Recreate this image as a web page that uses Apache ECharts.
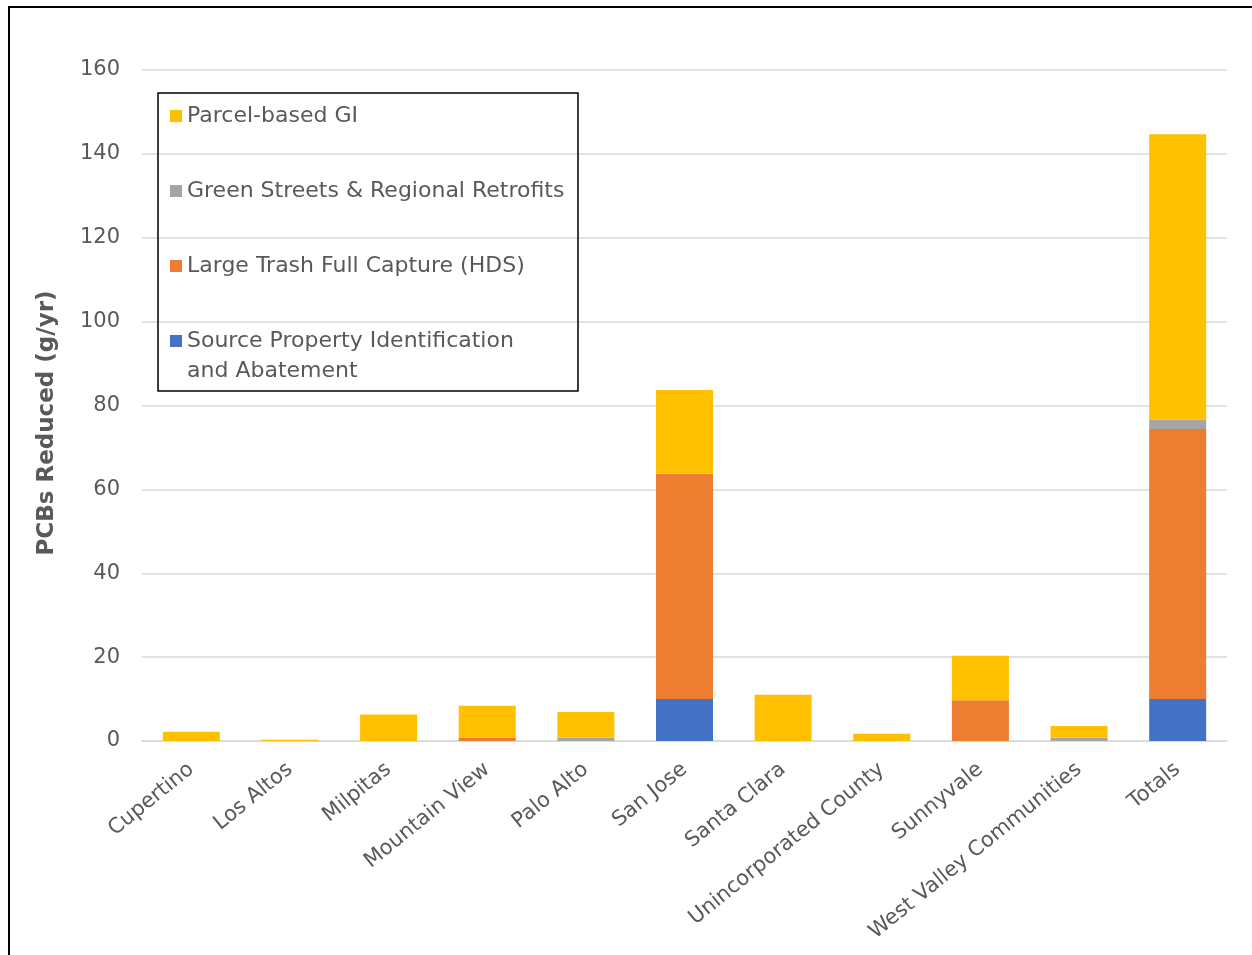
<!DOCTYPE html>
<html>
<head>
<meta charset="utf-8">
<script src="https://cdn.jsdelivr.net/npm/echarts@6/dist/echarts.min.js"></script>
<style>
  html, body { margin: 0; padding: 0; background: #fff; }
  #frame { position: absolute; left: 8px; top: 6px; width: 1300px; height: 1000px; border-left: 2px solid #000; border-top: 2px solid #000; }
  #chart { position: absolute; left: 0; top: 0; width: 1252px; height: 955px; }
</style>
</head>
<body>
<div id="frame"></div>
<div id="chart"></div>
<script>
const categories = ['Cupertino', 'Los Altos', 'Milpitas', 'Mountain View', 'Palo Alto', 'San Jose', 'Santa Clara', 'Unincorporated County', 'Sunnyvale', 'West Valley Communities', 'Totals'];
const sourceProperty = [0, 0, 0, 0, 0, 10.0, 0, 0, 0, 0, 10.0];
const largeTrash = [0, 0, 0, 0.8, 0, 53.7, 0, 0, 9.7, 0, 64.4];
const greenStreets = [0, 0, 0, 0, 0.8, 0, 0, 0, 0, 0.8, 2.2];
const parcelGI = [2.2, 0.3, 6.3, 7.6, 6.1, 20.0, 11.0, 1.7, 10.6, 2.8, 68.1];
const yTicks = [0, 20, 40, 60, 80, 100, 120, 140, 160];

const FONT = '"DejaVu Sans", "Open Sans", sans-serif';
const TXT = '#595959';
const SRC = 'Source Property Identification and Abatement';

const chart = echarts.init(document.getElementById('chart'), null, { renderer: 'canvas' });

function bar(name, data, color) {
  return {
    name: name, type: 'bar', stack: 'total', data: data,
    barWidth: 57,
    itemStyle: { color: color },
    emphasis: { disabled: true }
  };
}

chart.setOption({
  animation: false,
  backgroundColor: 'transparent',
  textStyle: { fontFamily: FONT },
  grid: { left: 142, right: 25, top: 70, bottom: 214, containLabel: false },
  legend: {
    orient: 'vertical',
    left: 165, top: 96,
    data: ['Parcel-based GI', 'Green Streets & Regional Retrofits', 'Large Trash Full Capture (HDS)', SRC],
    icon: 'rect',
    itemWidth: 12, itemHeight: 12,
    itemGap: 45,
    formatter: function (n) { return n === SRC ? 'Source Property Identification' : n; },
    textStyle: { color: TXT, fontSize: 22, fontFamily: FONT, lineHeight: 30 }
  },
  graphic: [
    { type: 'rect', shape: { x: 158, y: 93, width: 420, height: 298 }, style: { fill: 'none', stroke: '#000', lineWidth: 1.5 }, z: 100, silent: true },
    { type: 'text', x: 187, y: 371, style: { text: 'and Abatement', fill: TXT, font: '22px ' + FONT, align: 'left', verticalAlign: 'middle' } },
    { type: 'text', x: 47, y: 423, rotation: Math.PI / 2, style: { text: 'PCBs Reduced (g/yr)', fill: TXT, font: 'bold 23px ' + FONT, align: 'center', verticalAlign: 'middle' } }
  ],
  xAxis: {
    type: 'category',
    data: categories,
    axisLine: { lineStyle: { color: '#d9d9d9', width: 1.5 } },
    axisTick: { show: false },
    axisLabel: { rotate: 39, color: TXT, fontSize: 21, fontFamily: FONT, margin: 26, interval: 0 }
  },
  yAxis: {
    type: 'value',
    min: 0, max: 160, interval: 20,
    axisLine: { show: false },
    axisTick: { show: false },
    splitLine: { lineStyle: { color: '#d9d9d9', width: 1.5 } },
    axisLabel: { color: TXT, fontSize: 21, fontFamily: FONT, margin: 22,
      formatter: function (v) { return yTicks.indexOf(v) >= 0 ? String(v) : ''; } }
  },
  series: [
    bar(SRC, sourceProperty, '#4472C4'),
    bar('Large Trash Full Capture (HDS)', largeTrash, '#ED7D31'),
    bar('Green Streets & Regional Retrofits', greenStreets, '#A5A5A5'),
    bar('Parcel-based GI', parcelGI, '#FFC000')
  ]
});
</script>
</body>
</html>
